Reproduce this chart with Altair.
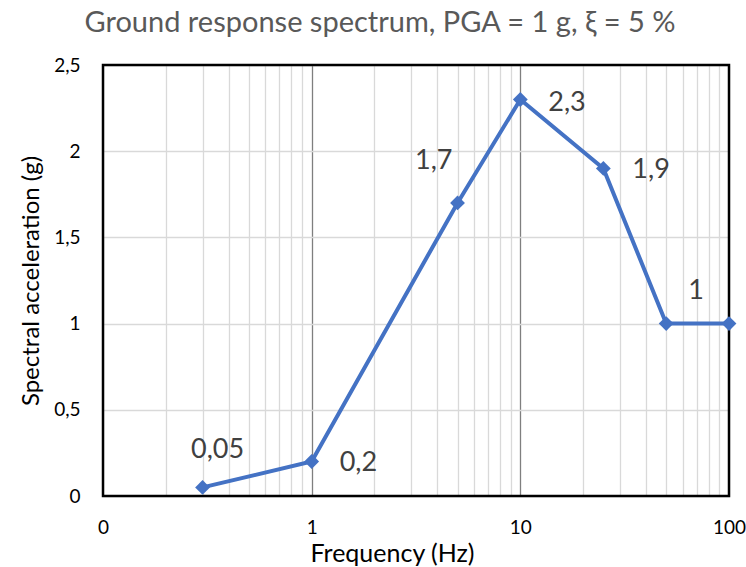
import altair as alt
import pandas as pd

freq = [0.3, 1, 5, 10, 25, 50, 100]
accel = [0.05, 0.2, 1.7, 2.3, 1.9, 1.0, 1.0]
labels = ["0,05", "0,2", "1,7", "2,3", "1,9", "1", ""]

x_ticks = [0.1, 1, 10, 100]
minor = [0.2, 0.3, 0.4, 0.5, 0.6, 0.7, 0.8, 0.9,
         2, 3, 4, 5, 6, 7, 8, 9,
         20, 30, 40, 50, 60, 70, 80, 90]
y_ticks = [0, 0.5, 1.0, 1.5, 2.0, 2.5]

FONT = "Lato"
W, H = 626, 431
df = pd.DataFrame({"f": freq, "a": accel, "lab": labels})

xscale = alt.Scale(type="log", domain=[0.1, 100], nice=False)
yscale = alt.Scale(domain=[0, 2.5], nice=False)

xaxis = alt.Axis(
    values=x_ticks + minor,
    labelExpr="datum.value == 0.1 ? '0' : (datum.value == 1 || datum.value == 10 || datum.value == 100) ? toString(datum.value) : ''",
    gridColor={"condition": {"test": "datum.value == 1 || datum.value == 10", "value": "#7f7f7f"}, "value": "#d9d9d9"},
    gridWidth=1.3,
    ticks=False, tickSize=0, domain=False,
    labelFont=FONT, labelFontSize=19, labelColor="#000000", labelPadding=22,
    labelFlush=False, labelOverlap=False,
    title="Frequency (Hz)", titleFont=FONT, titleFontSize=25, titleFontWeight="normal",
    titleColor="#000000", titlePadding=4, titleX=289,
)
yaxis = alt.Axis(
    values=y_ticks,
    labelExpr="replace(toString(datum.value), '.', ',')",
    gridColor="#d9d9d9", gridWidth=1.3,
    ticks=False, tickSize=0, domain=False,
    labelFont=FONT, labelFontSize=19, labelColor="#000000", labelPadding=23,
    title="Spectral acceleration (g)", titleFont=FONT, titleFontSize=24,
    titleFontWeight="normal", titleColor="#000000", titlePadding=10,
)

base = alt.Chart(df)
line = base.mark_line(color="#4472C4", strokeWidth=4).encode(
    x=alt.X("f:Q", scale=xscale, axis=xaxis),
    y=alt.Y("a:Q", scale=yscale, axis=yaxis),
)
pts = base.mark_point(shape="diamond", filled=True, color="#4472C4", size=220, opacity=1).encode(
    x=alt.X("f:Q", scale=xscale), y=alt.Y("a:Q", scale=yscale)
)

# plot-area frame
frame = alt.Chart(pd.DataFrame({"k": [0]})).mark_rect(
    fill=None, fillOpacity=0, stroke="#000000", strokeWidth=2.5
).encode(x=alt.value(0), x2=alt.value(W), y=alt.value(0), y2=alt.value(H))

# label placement per point (styling kept out of data arrays)
offsets = {
    "0,05": ("center", 15, -37),
    "0,2": ("left", 28, 1),
    "1,7": ("right", -5, -42),
    "2,3": ("left", 28, 4),
    "1,9": ("left", 29, 2),
    "1": ("center", 30, -33),
}
text_layers = []
for lab, (al, dx, dy) in offsets.items():
    text_layers.append(
        base.transform_filter(alt.datum.lab == lab).mark_text(
            align=al, baseline="middle", dx=dx, dy=dy, font=FONT, fontSize=27, color="#404040"
        ).encode(x=alt.X("f:Q", scale=xscale), y=alt.Y("a:Q", scale=yscale), text="lab:N")
    )

chart = alt.layer(line, frame, pts, *text_layers).properties(
    width=W, height=H,
    title=alt.TitleParams(
        "Ground response spectrum, PGA = 1 g, ξ = 5 %",
        font=FONT, fontSize=29, fontWeight="normal", color="#595959",
        anchor="middle", dx=-36, offset=18,
    ),
    padding={"left": 103, "top": 65, "right": 17, "bottom": 71},
    autosize=alt.AutoSizeParams(type="none"),
).configure(background="white").configure_view(stroke=None)

chart.save("out.html", embed_options={"renderer": "svg", "actions": False})
